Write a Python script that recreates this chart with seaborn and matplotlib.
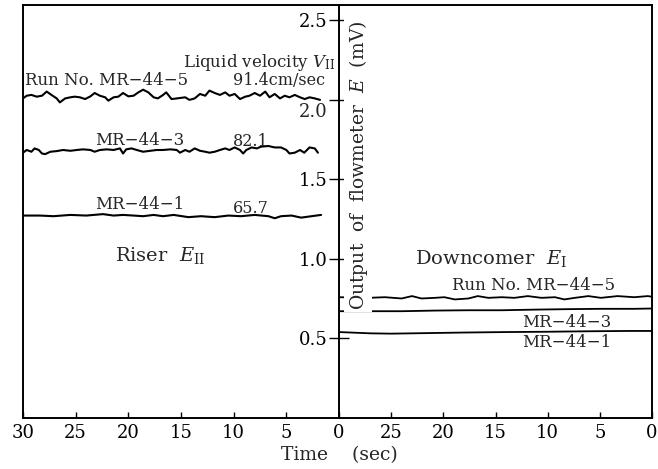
import matplotlib
matplotlib.use("Agg")
import matplotlib.pyplot as plt
import seaborn as sns

# ---------------- data ----------------
# Riser (left panel): time axis runs 30 -> 0 s
riser5_t = [30.0, 29.65, 29.2, 28.7, 28.2, 27.75, 27.3, 26.8, 26.5, 26.0,
            25.5, 25.1, 24.6, 24.1, 23.6, 23.2, 22.7, 22.2, 21.9, 21.4,
            20.95, 20.5, 20.0, 19.5, 19.05, 18.6, 18.1, 17.6, 17.2, 16.7,
            16.4, 15.9, 15.4,
            14.6, 14.2, 13.7, 13.2, 12.7, 12.3, 11.8, 11.3, 10.8, 10.4,
            9.9, 9.4, 8.9, 8.5, 8.0, 7.5, 7.0, 6.6, 6.1, 5.6,
            5.15, 4.7, 4.2, 3.7, 3.25, 2.8, 2.3, 1.8]
riser5_e = [2.008, 2.025, 2.030, 2.019, 2.025, 2.051, 2.030, 2.008, 1.983, 2.008,
            2.015, 2.019, 2.015, 2.004, 2.021, 2.042, 2.025, 2.015, 1.994, 2.015,
            2.019, 2.042, 2.021, 2.025, 2.046, 2.063, 2.046, 2.015, 2.008, 2.030,
            2.046, 2.004, 2.008,
            2.015, 1.999, 2.008, 2.036, 2.025, 2.057, 2.042, 2.030, 2.046, 2.025,
            2.036, 2.004, 2.019, 2.025, 2.042, 2.025, 2.051, 2.015, 2.036, 2.008,
            2.025, 2.015, 2.030, 2.015, 2.004, 2.015, 2.008, 1.999]

riser3_t = [30.0, 29.65, 29.2, 28.9, 28.5, 28.2, 27.9, 27.4, 26.8, 26.2,
            25.5, 24.9, 24.3, 23.6, 23.2, 22.7, 22.05, 21.4, 20.8, 20.5,
            20.2, 19.7, 19.2, 18.6, 17.9, 17.3, 16.7, 16.0, 15.4,
            15.1, 14.6, 14.2, 13.7, 13.2, 12.7, 12.3, 11.8, 11.3, 10.8,
            10.4, 9.9, 9.4, 9.1, 8.8, 8.3, 7.8, 7.4, 6.7, 6.1,
            5.5, 5.0, 4.7, 4.2, 3.7, 3.3, 2.8, 2.3, 2.0]
riser3_e = [1.667, 1.684, 1.673, 1.694, 1.684, 1.662, 1.658, 1.673, 1.677, 1.684,
            1.679, 1.684, 1.688, 1.684, 1.673, 1.684, 1.688, 1.684, 1.694, 1.662,
            1.688, 1.694, 1.684, 1.673, 1.679, 1.684, 1.684, 1.688, 1.684,
            1.667, 1.684, 1.673, 1.694, 1.679, 1.673, 1.667, 1.673, 1.684, 1.694,
            1.684, 1.700, 1.684, 1.662, 1.684, 1.700, 1.694, 1.705, 1.709, 1.700,
            1.700, 1.684, 1.662, 1.667, 1.684, 1.667, 1.700, 1.694, 1.667]

riser1_t = [30.0, 28.4, 27.1, 25.5, 24.0, 22.4, 21.4, 20.5, 19.5, 18.6,
            17.6, 16.7, 15.7, 14.3, 13.1, 11.8, 10.5, 9.3, 8.0, 6.7,
            6.1, 5.5, 4.5, 3.6, 2.6, 1.7]
riser1_e = [1.272, 1.272, 1.268, 1.276, 1.272, 1.281, 1.272, 1.276, 1.272, 1.268,
            1.276, 1.268, 1.276, 1.262, 1.268, 1.262, 1.272, 1.268, 1.276, 1.268,
            1.255, 1.268, 1.272, 1.259, 1.268, 1.276]

# Downcomer (right panel)
down5_t = [30.0, 27.2, 25.6, 24.0, 23.0, 22.1, 20.8, 19.9, 18.9, 17.6,
           16.7, 15.7, 14.4, 13.2, 11.9, 10.6, 9.3, 8.4, 7.4, 6.1,
           4.9, 3.3, 1.7, 0.4, 0.0]
down5_e = [0.759, 0.755, 0.759, 0.751, 0.766, 0.751, 0.755, 0.759, 0.745, 0.751,
           0.766, 0.755, 0.759, 0.755, 0.766, 0.755, 0.759, 0.745, 0.755, 0.766,
           0.755, 0.766, 0.759, 0.766, 0.762]

down3_t = [30.0, 27.2, 24.0, 20.8, 17.6, 14.4, 11.2, 8.0, 4.9, 1.7, 0.0]
down3_e = [0.671, 0.671, 0.671, 0.675, 0.677, 0.677, 0.681, 0.684, 0.686, 0.686, 0.688]

down1_t = [30.0, 27.0, 25.0, 22.0, 18.0, 14.0, 10.0, 6.0, 2.0, 0.0]
down1_e = [0.540, 0.532, 0.530, 0.533, 0.537, 0.540, 0.542, 0.545, 0.547, 0.547]

x_ticks = [30, 25, 20, 15, 10, 5, 0]
left_xlabels = ["30", "25", "20", "15", "10", "5", ""]
right_xlabels = ["0", "25", "20", "15", "10", "5", "0"]
y_ticks = [0.5, 1.0, 1.5, 2.0, 2.5]
y_labels = ["0.5", "1.0", "1.5", "", "2.5"]

# ---------------- styling ----------------
sns.set_style("ticks")
plt.rcParams['font.family'] = ['DejaVu Serif']
plt.rcParams['mathtext.fontset'] = 'dejavuserif'

W, H = 658, 469
fig = plt.figure(figsize=(W / 100, H / 100), dpi=100)
x0, xm, x1 = 23, 339, 652
ytop, ybot = 5, 418
axL = fig.add_axes([x0 / W, 1 - ybot / H, (xm - x0) / W, (ybot - ytop) / H])
axR = fig.add_axes([xm / W, 1 - ybot / H, (x1 - xm) / W, (ybot - ytop) / H])

for t, e in [(riser5_t, riser5_e), (riser3_t, riser3_e), (riser1_t, riser1_e)]:
    sns.lineplot(x=t, y=e, ax=axL, color='black', lw=1.5, estimator=None, zorder=2)
for t, e in [(down5_t, down5_e), (down3_t, down3_e), (down1_t, down1_e)]:
    sns.lineplot(x=t, y=e, ax=axR, color='black', lw=1.3, estimator=None, zorder=2)

for ax in (axL, axR):
    ax.set_xlim(30, 0)
    ax.set_ylim(0, 2.595)
    ax.set_xlabel("")
    ax.set_ylabel("")
    for s in ax.spines.values():
        s.set_color('black')
        s.set_linewidth(1.4)
    ax.set_xticks(x_ticks)
    ax.tick_params(axis='x', direction='in', length=4, width=1, pad=4,
                   labelsize=13, colors='black')

axL.set_xticklabels(left_xlabels)
axR.set_xticklabels(right_xlabels)
axL.set_yticks([])
axL.spines['right'].set_visible(False)
axR.set_yticks(y_ticks)
axR.set_yticklabels(y_labels)
axR.tick_params(axis='y', direction='inout', length=14, width=1, pad=1,
                labelsize=13, colors='black', left=True, right=False)
# the 2.0 label sits just below its tick in the original
axL.text(1.05, 1.92, "2.0", ha='right', va='center', fontsize=13)

# ---------------- annotations ----------------
fs = 12
axL.text(0.4, 2.234, r"Liquid velocity $V_{\mathrm{II}}$", ha='right', va='center', fontsize=fs)
axL.text(29.8, 2.123, "Run No. MR\u221244\u22125", ha='left', va='center', fontsize=fs)
axL.text(10.07, 2.123, "91.4cm/sec", ha='left', va='center', fontsize=11.5)
axL.text(23.17, 1.741, "MR\u221244\u22123", ha='left', va='center', fontsize=fs)
axL.text(10.07, 1.735, "82.1", ha='left', va='center', fontsize=11.5)
axL.text(23.17, 1.339, "MR\u221244\u22121", ha='left', va='center', fontsize=fs)
axL.text(10.07, 1.318, "65.7", ha='left', va='center', fontsize=11.5)
axL.text(21.27, 1.022, r"Riser  $E_{\mathrm{II}}$", ha='left', va='center', fontsize=14)

axR.text(22.7, 1.003, r"Downcomer  $E_{\mathrm{I}}$", ha='left', va='center', fontsize=14)
axR.text(19.17, 0.832, "Run No. MR\u221244\u22125", ha='left', va='center', fontsize=fs)
axR.text(12.47, 0.601, "MR\u221244\u22123", ha='left', va='center', fontsize=fs)
axR.text(12.47, 0.472, "MR\u221244\u22121", ha='left', va='center', fontsize=fs)

# y-axis title placed inside the right panel, covering the traces beneath it
axR.text((358 - xm) / (x1 - xm), 1.589, r"Output  of  flowmeter  $E$  (mV)",
         transform=axR.get_yaxis_transform() if False else
         __import__('matplotlib').transforms.blended_transform_factory(axR.transAxes, axR.transData),
         rotation=90, ha='center', va='center', fontsize=13.5, zorder=5,
         bbox=dict(facecolor='white', edgecolor='none', pad=1.5))

fig.text(xm / W, 1 - 455 / H, "Time    (sec)", ha='center', va='center', fontsize=13.5)

fig.savefig("out.png", dpi=100, facecolor='white')
